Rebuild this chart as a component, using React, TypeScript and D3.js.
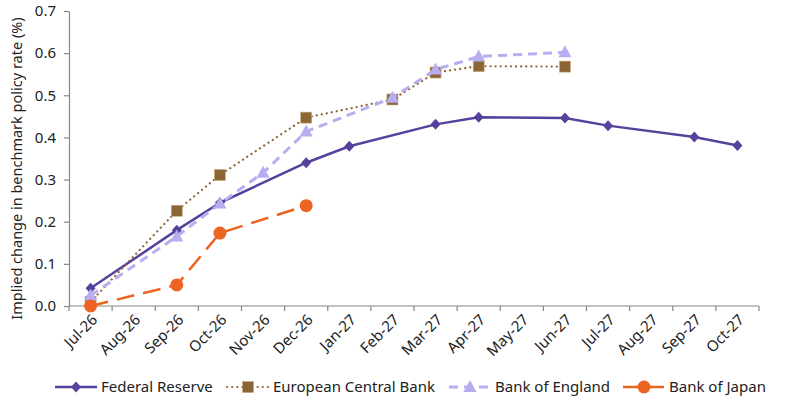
import { useEffect, useRef } from 'react'
import * as d3 from 'd3'

const months = [
  'Jul-26', 'Aug-26', 'Sep-26', 'Oct-26', 'Nov-26', 'Dec-26', 'Jan-27', 'Feb-27',
  'Mar-27', 'Apr-27', 'May-27', 'Jun-27', 'Jul-27', 'Aug-27', 'Sep-27', 'Oct-27',
]

const fed = [0.042, null, 0.18, 0.245, null, 0.34, 0.379, null, 0.431, 0.448, null, 0.446, 0.428, null, 0.401, 0.381]
const ecb = [0.01, null, 0.226, 0.311, null, 0.447, null, 0.49, 0.554, 0.569, null, 0.568, null, null, null, null]
const boe = [0.025, null, 0.165, 0.243, 0.316, 0.414, null, 0.494, 0.561, 0.592, null, 0.602, null, null, null, null]
const boj = [0.0, null, 0.05, 0.173, null, 0.238, null, null, null, null, null, null, null, null, null, null]

const yTicks = [0, 0.1, 0.2, 0.3, 0.4, 0.5, 0.6, 0.7]

type Marker = 'diamond' | 'square' | 'triangle' | 'circle'

const series: { name: string; values: (number | null)[]; color: string; width: number; dash: string; cap: string; marker: Marker }[] = [
  { name: 'Federal Reserve', values: fed, color: '#56419c', width: 2.5, dash: '', cap: 'butt', marker: 'diamond' },
  { name: 'European Central Bank', values: ecb, color: '#8c6534', width: 2.2, dash: '0.1,5', cap: 'round', marker: 'square' },
  { name: 'Bank of England', values: boe, color: '#b8adf0', width: 3, dash: '9,6', cap: 'butt', marker: 'triangle' },
  { name: 'Bank of Japan', values: boj, color: '#ec6322', width: 2.5, dash: '18,9', cap: 'butt', marker: 'circle' },
]

const FONT = '"Noto Sans", "Open Sans", sans-serif'

function drawMarker(g: d3.Selection<SVGGElement, unknown, null, undefined>, type: Marker, x: number, y: number, color: string) {
  if (type === 'diamond') {
    g.append('path').attr('d', `M${x},${y - 5.5}L${x + 5},${y}L${x},${y + 5.5}L${x - 5},${y}Z`).attr('fill', color)
  } else if (type === 'square') {
    g.append('rect').attr('x', x - 5.5).attr('y', y - 5.5).attr('width', 11).attr('height', 11)
      .attr('fill', color).attr('stroke', '#c9ab80').attr('stroke-width', 0.6)
  } else if (type === 'triangle') {
    g.append('path').attr('d', `M${x},${y - 7}L${x + 6.5},${y + 5}L${x - 6.5},${y + 5}Z`).attr('fill', color)
  } else {
    g.append('circle').attr('cx', x).attr('cy', y).attr('r', 6.5).attr('fill', color)
  }
}

export default function App() {
  const svgRef = useRef<SVGSVGElement>(null)

  useEffect(() => {
    if (!svgRef.current) return
    const svg = d3.select(svgRef.current)
    svg.selectAll('*').remove()

    const left = 69
    const right = 759
    const top = 11
    const bottom = 306

    const x = d3.scaleBand().domain(months).range([left, right]).padding(0)
    const cx = (m: string) => (x(m) ?? 0) + x.bandwidth() / 2
    const y = d3.scaleLinear().domain([0, 0.7]).range([bottom, top])

    // Y axis
    const yAxis = svg.append('g').attr('transform', `translate(${left},0)`)
      .call(d3.axisLeft(y).tickValues(yTicks).tickFormat(d3.format('.1f')).tickSize(5).tickSizeOuter(0))
    yAxis.select('.domain').attr('stroke', '#868686').attr('stroke-width', 1.2)
    yAxis.selectAll('.tick line').attr('stroke', '#868686').attr('stroke-width', 1.2)
    yAxis.selectAll('.tick text').attr('x', -13).style('font-family', FONT).style('font-size', '15px').attr('fill', '#222')

    // X axis
    const xAxis = svg.append('g').attr('transform', `translate(0,${bottom})`)
    xAxis.append('line').attr('x1', left).attr('x2', right).attr('stroke', '#868686').attr('stroke-width', 1.2)
    const bounds = months.map(m => x(m) ?? 0).concat([right])
    xAxis.selectAll('line.tk').data(bounds).enter().append('line').attr('class', 'tk')
      .attr('x1', d => d).attr('x2', d => d).attr('y1', 0).attr('y2', 5)
      .attr('stroke', '#868686').attr('stroke-width', 1.2)
    xAxis.selectAll('text').data(months).enter().append('text')
      .attr('transform', d => `translate(${cx(d) + 4},${11}) rotate(-45)`)
      .attr('text-anchor', 'end')
      .attr('dy', '0.35em')
      .style('font-family', FONT).style('font-size', '15px').attr('fill', '#222')
      .text(d => d)

    // Y title
    svg.append('text')
      .attr('transform', `translate(22,${(top + bottom) / 2 + 10}) rotate(-90)`)
      .attr('text-anchor', 'middle')
      .style('font-family', FONT).style('font-size', '14.5px').attr('fill', '#222')
      .text('Implied change in benchmark policy rate (%)')

    // Series
    series.forEach(s => {
      const pts = months.map((m, i) => ({ m, v: s.values[i] })).filter(p => p.v !== null) as { m: string; v: number }[]
      const line = d3.line<{ m: string; v: number }>().x(p => cx(p.m)).y(p => y(p.v))
      svg.append('path').attr('d', line(pts)).attr('fill', 'none')
        .attr('stroke', s.color).attr('stroke-width', s.width)
        .attr('stroke-dasharray', s.dash).attr('stroke-linecap', s.cap).attr('stroke-linejoin', 'round')
      const g = svg.append('g')
      pts.forEach(p => drawMarker(g, s.marker, cx(p.m), y(p.v), s.color))
    })

    // Legend
    const legendX = [55, 227, 449, 623]
    const ly = 387
    series.forEach((s, i) => {
      const g = svg.append('g')
      const x0 = legendX[i]
      g.append('line').attr('x1', x0).attr('x2', x0 + 42).attr('y1', ly).attr('y2', ly)
        .attr('stroke', s.color).attr('stroke-width', s.width)
        .attr('stroke-dasharray', s.dash === '' ? '' : (s.marker === 'square' ? '0.1,5' : s.marker === 'triangle' ? '9,6' : '16,9'))
        .attr('stroke-linecap', s.cap)
      drawMarker(g, s.marker, x0 + 21, ly, s.color)
      g.append('text').attr('x', x0 + 46).attr('y', ly).attr('dy', '0.35em')
        .style('font-family', FONT).style('font-size', '15px').attr('fill', '#222')
        .text(s.name)
    })
  }, [])

  return (
    <svg ref={svgRef} width={800} height={401} style={{ display: 'block', position: 'absolute', left: 0, top: 0, background: '#fff' }} />
  )
}
